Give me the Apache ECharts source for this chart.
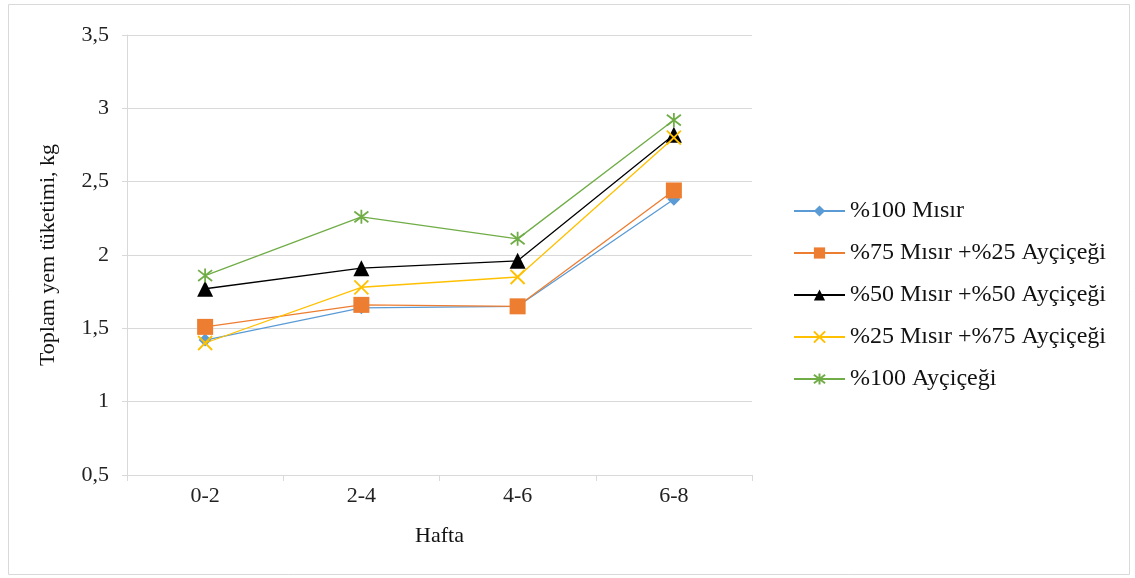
<!DOCTYPE html>
<html><head><meta charset="utf-8">
<script src="https://cdn.jsdelivr.net/npm/echarts@6/dist/echarts.min.js"></script>
<style>html,body{margin:0;padding:0;background:#fff}#c{width:1135px;height:578px}</style>
</head><body><div id="c"></div>
<script>
const categories = ['0-2', '2-4', '4-6', '6-8'];
const seriesNames = ['%100 Mısır', '%75 Mısır +%25 Ayçiçeği', '%50 Mısır +%50 Ayçiçeği', '%25 Mısır +%75 Ayçiçeği', '%100 Ayçiçeği'];
const misir100 = [1.42, 1.64, 1.65, 2.38];
const misir75 = [1.51, 1.66, 1.65, 2.44];
const misir50 = [1.77, 1.91, 1.96, 2.82];
const misir25 = [1.40, 1.78, 1.85, 2.80];
const aycicegi100 = [1.86, 2.26, 2.11, 2.92];
const yTicks = [0.5, 1, 1.5, 2, 2.5, 3, 3.5];

const colors = ['#5B9BD5', '#ED7D31', '#000000', '#FFC000', '#70AD47'];
const font = 'Liberation Serif, Times New Roman, serif';
const xSym = 'path://M0 0L10 10M10 0L0 10';
const starSym = 'path://M0 0L10 10M10 0L0 10M5 -1.5L5 11.5';

function mk(i, data, symbol, size, stroke) {
  const s = {
    name: seriesNames[i], type: 'line', data: data,
    symbol: symbol, symbolSize: size, showSymbol: true,
    lineStyle: { color: colors[i], width: 1.3 },
    itemStyle: { color: colors[i] },
    emphasis: { disabled: true }, z: 2 + i
  };
  if (stroke) {
    s.itemStyle = { color: 'rgba(0,0,0,0)', borderColor: colors[i], borderWidth: 1.8 };
  }
  return s;
}

const chart = echarts.init(document.getElementById('c'), null, { renderer: 'canvas' });
chart.setOption({
  animation: false,
  backgroundColor: '#fff',
  graphic: [{ type: 'rect', shape: { x: 8.5, y: 4.5, width: 1121, height: 570 }, style: { fill: 'none', stroke: '#d9d9d9', lineWidth: 1 }, silent: true }],
  grid: { left: 127, right: 383, top: 35, bottom: 103, containLabel: false },
  xAxis: {
    type: 'category', data: categories, boundaryGap: true,
    name: 'Hafta', nameLocation: 'middle', nameGap: 50,
    nameTextStyle: { fontFamily: font, fontSize: 22, color: '#111' },
    axisLine: { lineStyle: { color: '#d9d9d9', width: 1 } },
    axisTick: { show: true, length: 6, lineStyle: { color: '#d9d9d9' } },
    axisLabel: { fontFamily: font, fontSize: 22, color: '#222', margin: 10 },
    splitLine: { show: false }
  },
  yAxis: {
    type: 'value', min: 0.5, max: 3.5, interval: 0.5,
    name: 'Toplam yem tüketimi, kg', nameLocation: 'middle', nameGap: 68, nameRotate: 90,
    nameTextStyle: { fontFamily: font, fontSize: 22, color: '#111' },
    axisLine: { show: true, lineStyle: { color: '#d9d9d9' } },
    axisTick: { show: true, length: 5, lineStyle: { color: '#d9d9d9' } },
    axisLabel: { fontFamily: font, fontSize: 22, color: '#222', margin: 18,
      formatter: v => yTicks.includes(v) ? String(v).replace('.', ',') : '' },
    splitLine: { lineStyle: { color: '#d9d9d9', width: 1.2 } }
  },
  legend: {
    orient: 'vertical', left: 793, top: 199, padding: 0,
    itemWidth: 51, itemHeight: 14, itemGap: 18,
    textStyle: { fontFamily: font, fontSize: 24, color: '#111', lineHeight: 24 },
    data: seriesNames
  },
  series: [
    mk(0, misir100, 'diamond', 13),
    mk(1, misir75, 'rect', 16),
    mk(2, misir50, 'triangle', 16),
    mk(3, misir25, xSym, 14, true),
    mk(4, aycicegi100, starSym, 14, true)
  ]
});
</script></body></html>
